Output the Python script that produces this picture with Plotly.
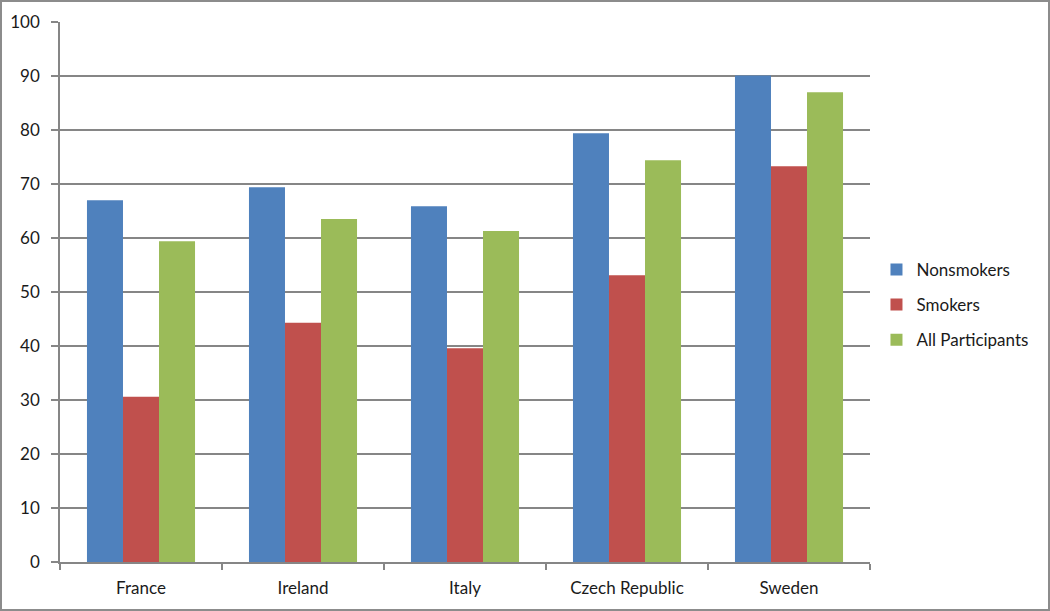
import plotly.graph_objects as go

countries = ["France", "Ireland", "Italy", "Czech Republic", "Sweden"]
nonsmokers = [67.0, 69.4, 65.9, 79.4, 90.1]
smokers = [30.6, 44.3, 39.6, 53.1, 73.3]
all_participants = [59.4, 63.5, 61.3, 74.4, 87.0]
y_ticks = [0, 10, 20, 30, 40, 50, 60, 70, 80, 90, 100]

W, H = 1050, 611
L, R, T, B = 60, 180, 22, 49

fig = go.Figure()
for name, vals, col in [("Nonsmokers", nonsmokers, "#4F81BD"),
                        ("Smokers", smokers, "#C0504D"),
                        ("All Participants", all_participants, "#9BBB59")]:
    fig.add_trace(go.Bar(x=countries, y=vals, name=name, marker_color=col,
                         marker_line_width=0, legendgroup=name))

pw, ph = W - L - R, H - T - B
fig.add_shape(type="rect", xref="paper", yref="paper",
              x0=-(L - 1) / pw, x1=1 + (R - 1) / pw,
              y0=-(B - 1) / ph, y1=1 + (T - 1) / ph,
              line=dict(color="#8c8c8c", width=2), layer="below")

fig.update_layout(
    width=W, height=H,
    margin=dict(l=L, r=R, t=T, b=B, autoexpand=False),
    paper_bgcolor="white", plot_bgcolor="white",
    barmode="group", bargap=0.333, bargroupgap=0,
    font=dict(family="Lato, Open Sans, sans-serif", size=17, color="#1a1a1a"),
    legend=dict(x=1.008, y=0.476, xanchor="left", yanchor="middle",
                tracegroupgap=10, font=dict(size=17)),
    xaxis=dict(showline=True, linecolor="#868686", linewidth=1.5,
               ticks="outside", tickson="boundaries", ticklen=6,
               tickcolor="#868686", tickwidth=1.5, showgrid=False,
               ticklabelstandoff=10, automargin=False),
    yaxis=dict(range=[0, 100], tickvals=y_ticks, showline=True,
               linecolor="#868686", linewidth=1.5, ticks="outside",
               ticklen=7, tickcolor="#868686", tickwidth=1.5,
               showgrid=True, gridcolor="#868686", gridwidth=1.5,
               zeroline=False, ticklabelstandoff=8, automargin=False),
)

fig.write_html("out.html", config={"displayModeBar": False},
               post_script="document.body.style.margin='0';document.body.style.overflow='hidden';")
